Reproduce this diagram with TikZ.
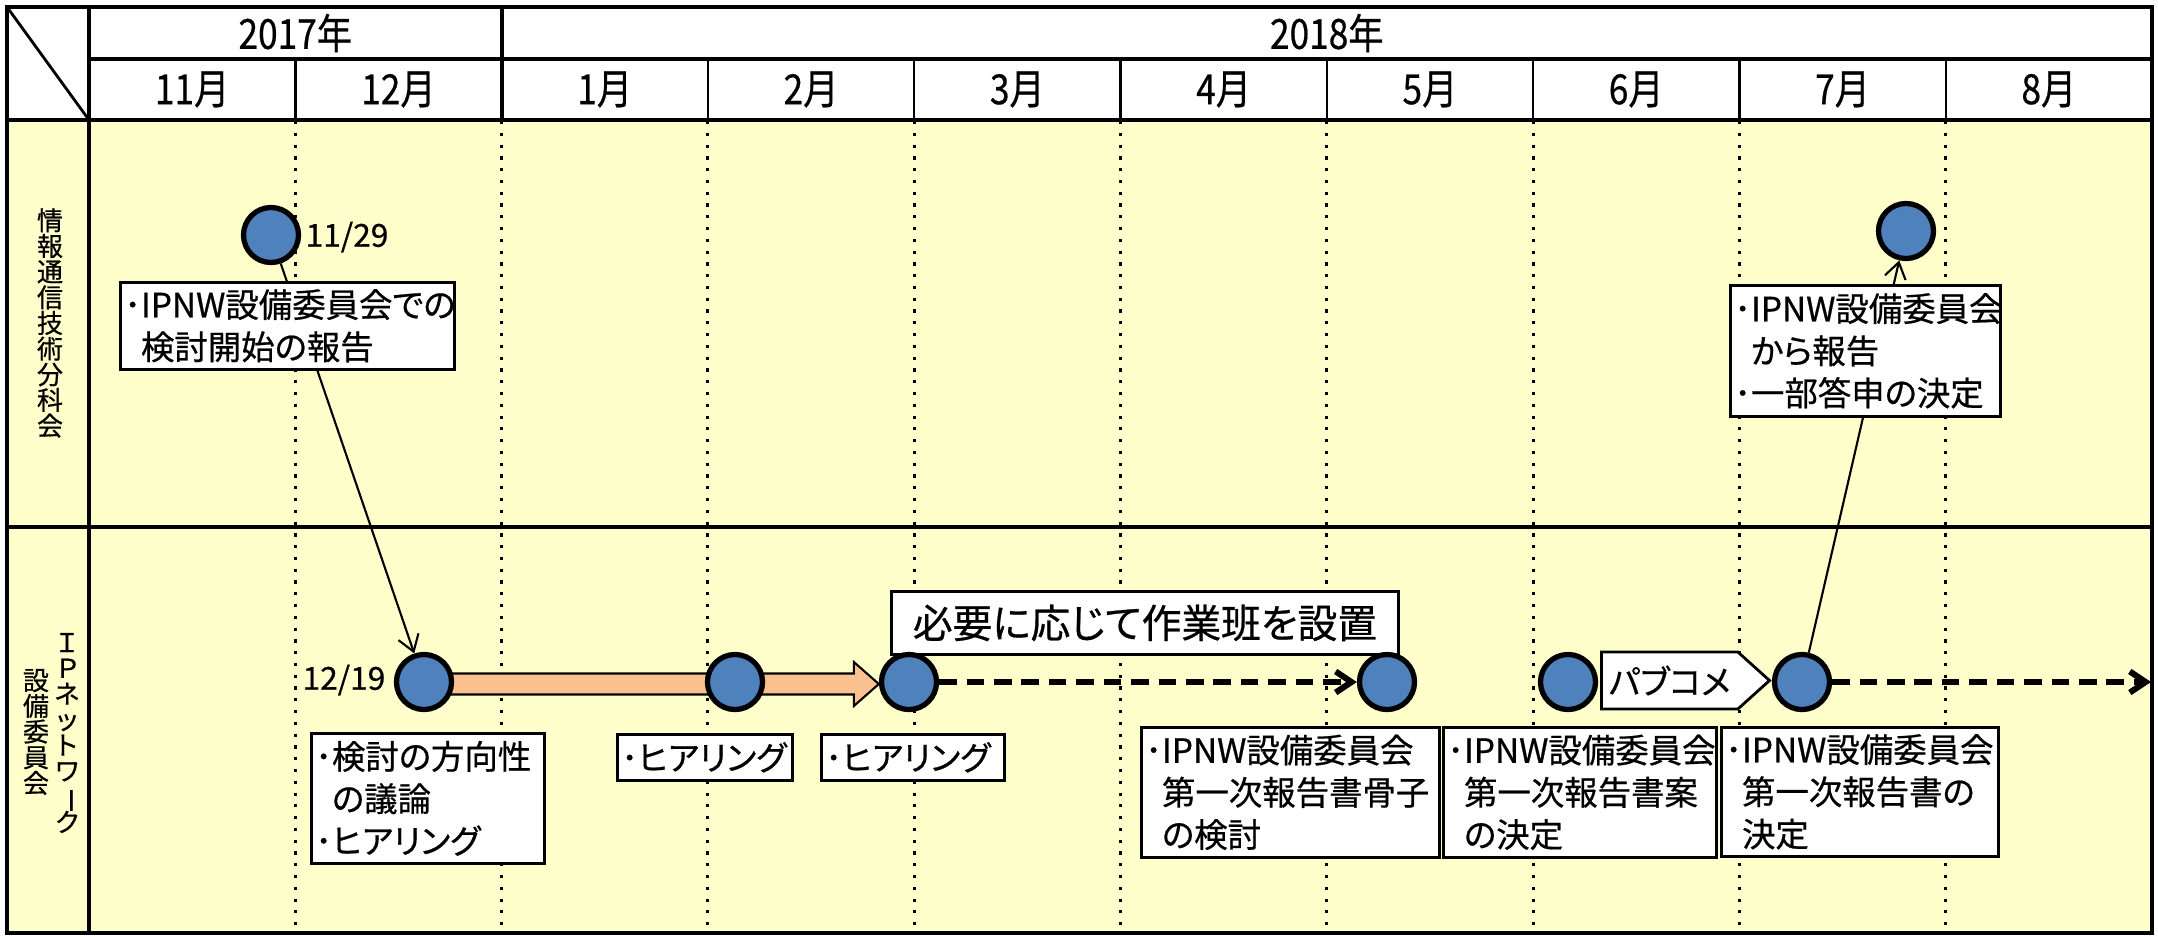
\documentclass[tikz,border=0pt]{standalone}
\usepackage{graphicx}
\usepackage{fontspec}
\setmainfont{Noto Sans CJK JP}[RawFeature=+palt,FakeBold=0.6]
\usetikzlibrary{arrows.meta,calc,shapes.symbols}
\definecolor{bodyyellow}{HTML}{FFFFCC}
\definecolor{dotblue}{HTML}{4F81BD}
\definecolor{peach}{HTML}{FAC090}
\pgfdeclarelayer{bg}
\pgfdeclarelayer{mid}
\pgfsetlayers{bg,mid,main}
\newcommand{\tightlines}{\lineskiplimit=-10pt\relax}
\newcommand{\cond}[1]{\scalebox{0.85}[1]{#1}}
\tikzset{
  event/.style={circle, draw=black, line width=1.5pt, fill=dotblue, minimum size=0.55cm, inner sep=0pt},
  note/.style={draw=black, line width=0.75pt, fill=white, align=left, anchor=north west,
    inner xsep=0.04cm, inner ysep=0pt, font=\fontsize{9.5pt}{12pt}\selectfont},
  bignote/.style={draw=black, line width=0.75pt, fill=white, align=center, anchor=north west,
    inner xsep=0.04cm, inner ysep=0pt, font=\fontsize{11.3pt}{13pt}\selectfont},
  hdr/.style={inner sep=0pt, font=\fontsize{11.8pt}{13pt}\selectfont},
  datelbl/.style={inner sep=0pt, font=\fontsize{9pt}{11pt}\selectfont},
  rowlabel/.style={inner sep=0pt, align=center, font=\fontsize{7.4pt}{7.3pt}\selectfont\tightlines},
  pcbox/.style={shape=signal, signal to=east, signal pointer angle=84, draw=black, line width=0.8pt,
    fill=white, minimum width=1.68cm, minimum height=0.57cm, inner sep=0pt, font=\fontsize{9.5pt}{11pt}\selectfont},
  gridline/.style={line width=1.1pt},
  thingrid/.style={line width=0.7pt},
  griddot/.style={line width=0.9pt, dash pattern=on 0.9pt off 2.45pt},
  thinlink/.style={line width=0.6pt, -{Straight Barb[length=4.5pt,width=6pt]}},
  dashlink/.style={line width=1.7pt, dash pattern=on 5pt off 2.8pt, -{Straight Barb[length=4.5pt,width=6pt]}},
}
\newcommand{\ind}{\hspace*{0.5em}}
\begin{document}
\begin{tikzpicture}[x=0.01cm,y=-0.01cm]
\useasboundingbox (0,0) rectangle (2158,936);

% ---------- table background ----------
\begin{pgfonlayer}{bg}
  \fill[white] (0,0) rectangle (2158,936);
  \fill[bodyyellow] (7,120) rectangle (2152,933);
  \foreach \k in {1,...,9}
    \draw[griddot] ({89+206.3*\k},121) -- ({89+206.3*\k},933);
  \draw[gridline] (7,7) rectangle (2152,933);
  \draw[gridline] (89,7) -- (89,933);
  \draw[gridline] (89,59) -- (2152,59);
  \draw[gridline] (7,120) -- (2152,120);
  \draw[gridline] (7,527) -- (2152,527);
  \draw[gridline] (501.6,7) -- (501.6,120);
  \foreach \k in {1,3,4,5,6,7,8,9}
    \draw[thingrid] ({89+206.3*\k},59) -- ({89+206.3*\k},120);
  \draw[line width=0.8pt] (7,7) -- (89,120);
\end{pgfonlayer}

% ---------- header ----------
\node[hdr] (y17) at (295.3,33) {\cond{2017年}};
\node[hdr] (y18) at (1326.8,33) {\cond{2018年}};
\foreach \m [count=\i from 0] in {11月,12月,1月,2月,3月,4月,5月,6月,7月,8月}
  \node[hdr] (m\i) at ({89+206.3*\i+103.15},89.5) {\cond{\m}};

% ---------- row labels ----------
\node[rowlabel] (r1) at (50,323) {情\\報\\通\\信\\技\\術\\分\\科\\会};
\node[rowlabel] (r2a) at (67,733) {Ｉ\\Ｐ\\ネ\\ッ\\ト\\ワ\\\rotatebox[origin=c]{-90}{ー}\\ク};
\node[rowlabel] (r2b) at (36,732) {設\\備\\委\\員\\会};

% ---------- boxes ----------
\node[note, text width=3.26cm, minimum height=0.87cm] (b1) at (119,281)
  {･IPNW設備委員会での\\\ind 検討開始の報告};
\node[note, text width=2.25cm, minimum height=1.30cm] (b2) at (310,732)
  {･検討の方向性\\\ind の議論\\･ヒアリング};
\node[note, text width=1.67cm, minimum height=0.46cm] (b3) at (616,733) {･ヒアリング};
\node[note, text width=1.75cm, minimum height=0.46cm] (b4) at (820,733) {･ヒアリング};
\node[note, text width=2.90cm, minimum height=1.30cm] (b5) at (1140,726)
  {･IPNW設備委員会\\\ind 第一次報告書骨子\\\ind の検討};
\node[note, text width=2.65cm, minimum height=1.30cm] (b6) at (1442,726)
  {･IPNW設備委員会\\\ind 第一次報告書案\\\ind の決定};
\node[note, text width=2.69cm, minimum height=1.29cm] (b7) at (1720,726)
  {･IPNW設備委員会\\\ind 第一次報告書の\\\ind 決定};
\node[note, text width=2.62cm, minimum height=1.31cm] (b8) at (1729,284)
  {･IPNW設備委員会\\\ind から報告\\･一部答申の決定};
\node[bignote, text width=4.99cm, minimum height=0.63cm] (b9) at (890,590)
  {必要に応じて作業班を設置};
\node[pcbox, anchor=west] (pc) at (1600,680.5) {パブコメ};

% ---------- events ----------
\node[event] (c1) at (271,235) {};
\node[event] (c2) at (424,682) {};
\node[event] (c3) at (735,682) {};
\node[event] (c4) at (909,682) {};
\node[event] (c5) at (1387,682) {};
\node[event] (c6) at (1568,682) {};
\node[event] (c7) at (1802,682) {};
\node[event] (c8) at (1906,231) {};
\coordinate (rend) at (2151,682);

\node[datelbl, anchor=west] (d1) at (305,237) {11/29};
\node[datelbl, anchor=east] (d2) at (386,680) {12/19};

% ---------- connectors ----------
\begin{pgfonlayer}{mid}
  \draw[line width=0.6pt, fill=peach]
    ($(c2.center)+(0,-8.5)$) -- ($(c4.west)+(-25,-8.5)$) -- ($(c4.west)+(-25,-20)$)
    -- ($(c4.west)+(0,2)$) -- ($(c4.west)+(-25,24)$) -- ($(c4.west)+(-25,12.5)$)
    -- ($(c2.center)+(0,12.5)$) -- cycle;
  \draw[thinlink] (c1) -- (c2);
  \draw[thinlink] (c7) -- (c8);
  \draw[dashlink] (c4) -- (c5);
  \draw[dashlink] (c7) -- (rend);
\end{pgfonlayer}
\end{tikzpicture}
\end{document}
